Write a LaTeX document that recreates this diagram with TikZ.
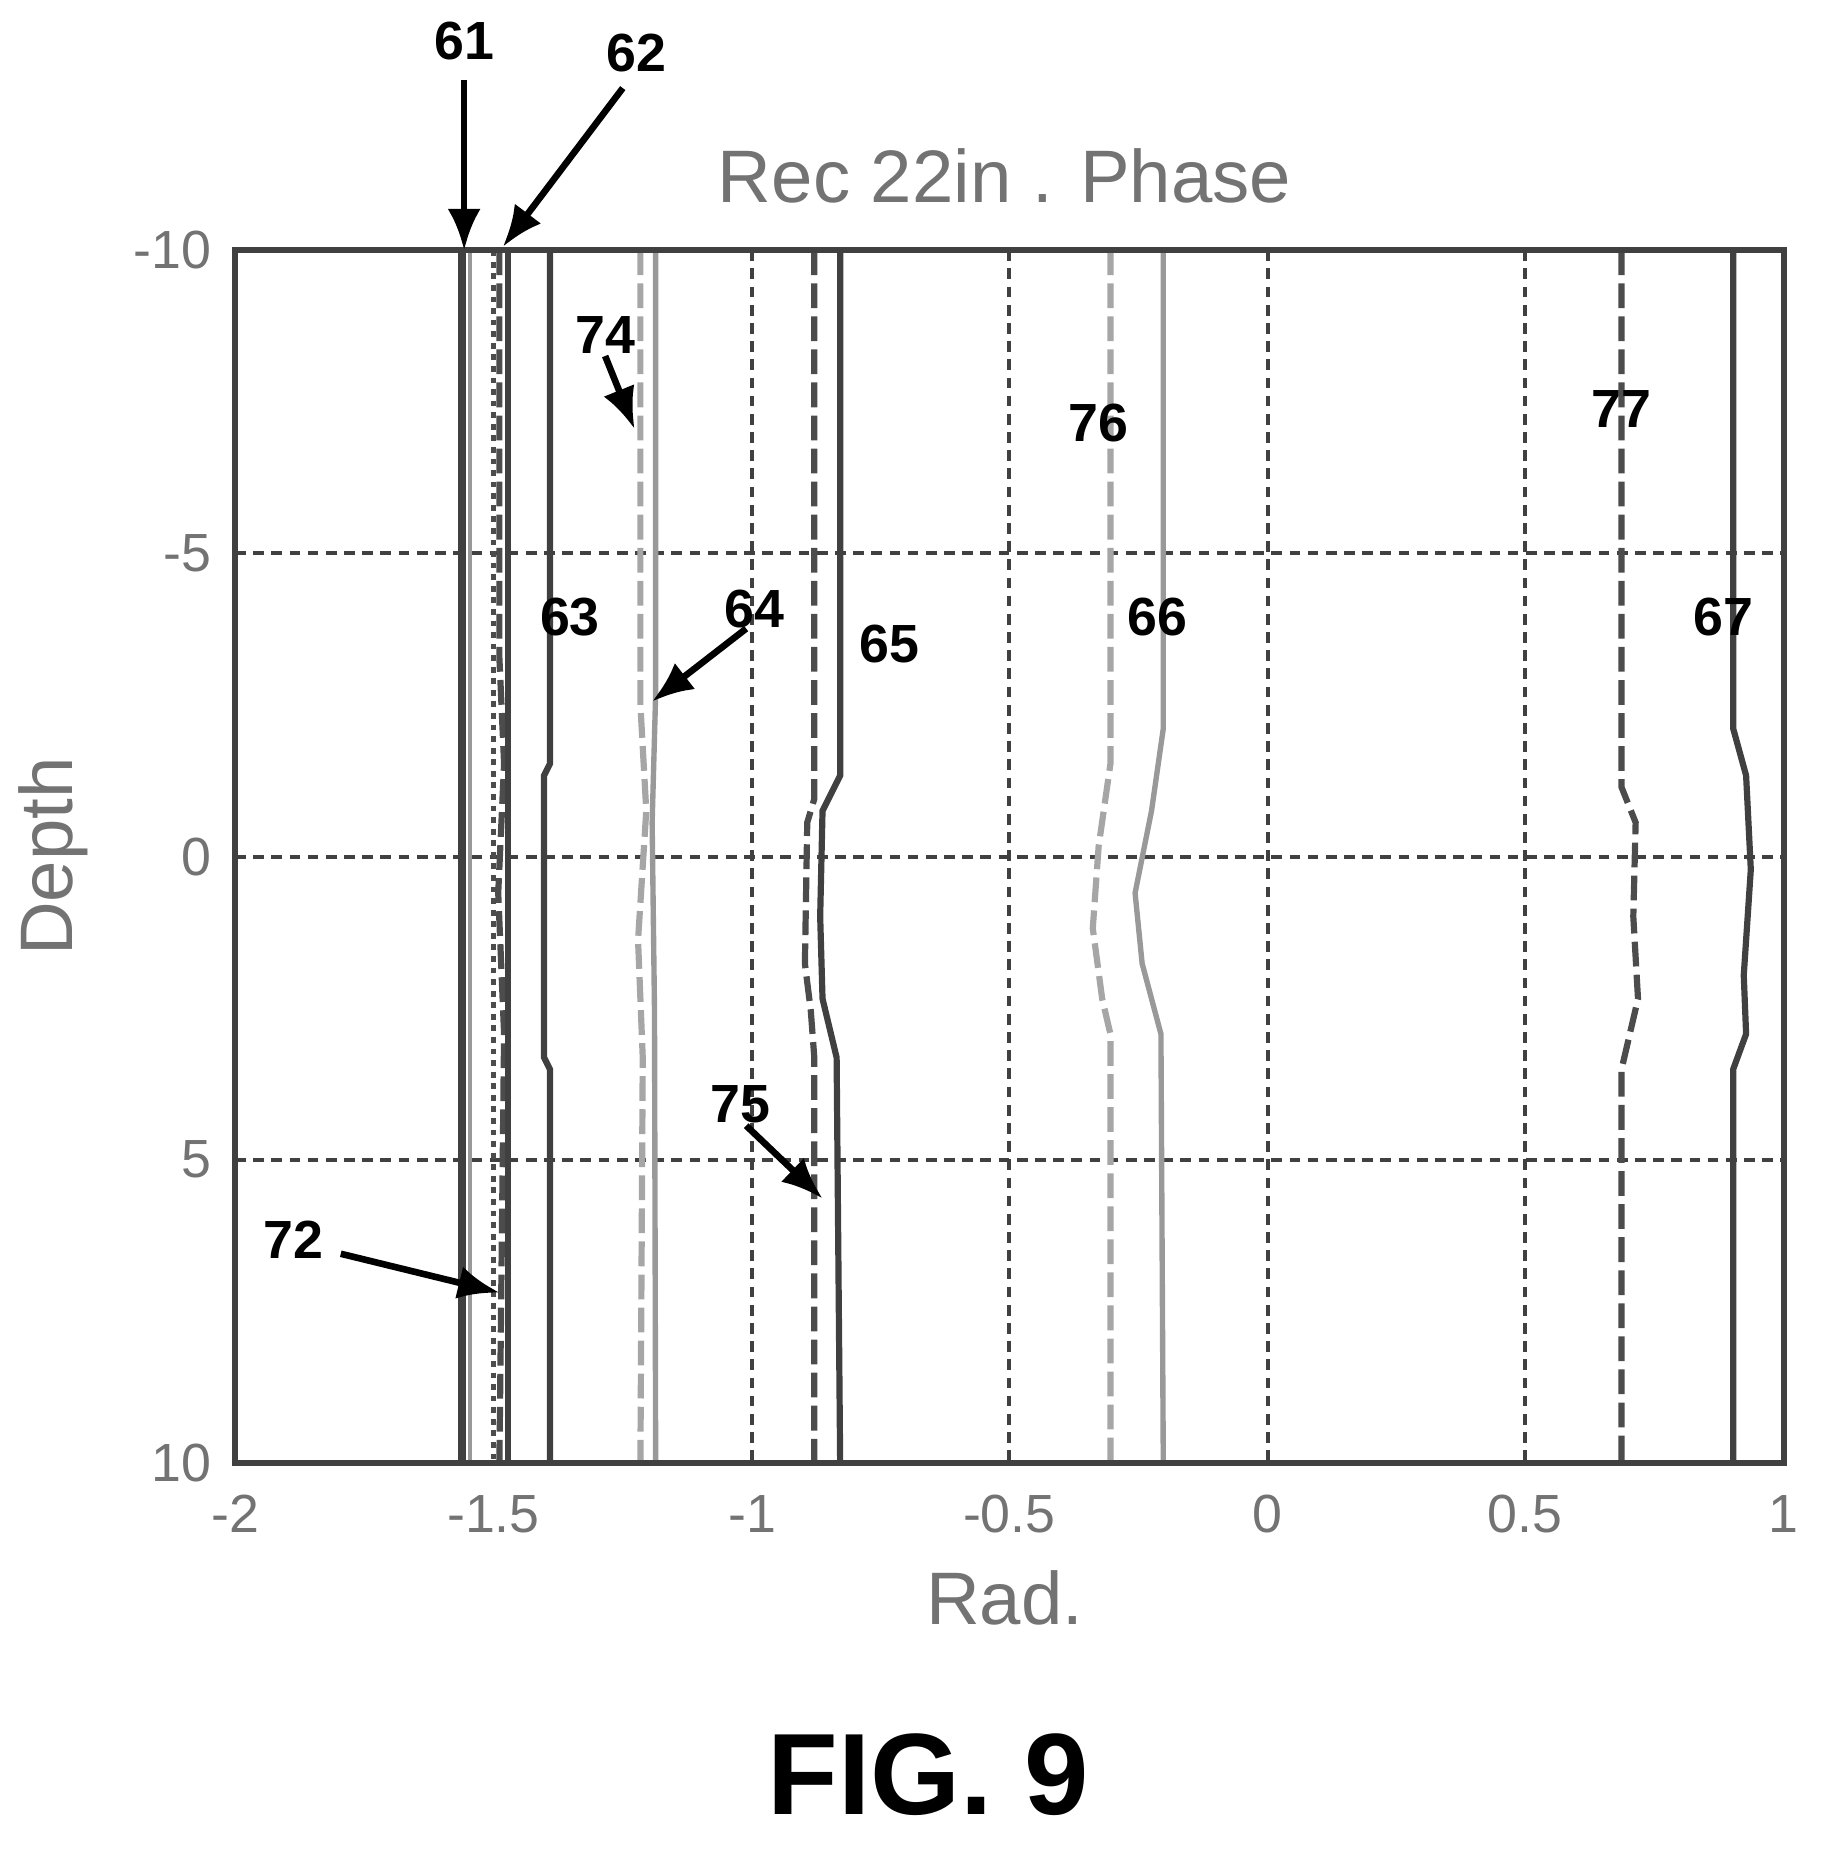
\documentclass[tikz,border=0pt]{standalone}
\usepackage{fontspec}
\setmainfont{Liberation Sans}
\usetikzlibrary{arrows.meta}
\begin{document}
\begin{tikzpicture}[
x=0.01cm, y=-0.01cm,
every node/.style={font=\bfseries\fontsize{13}{15}\selectfont},
]
% \draw [help lines] (0,0) grid (1550,1577);

\tikzset{
	grid/.style={black!75, line width=1pt, dash pattern=on 2.6pt off 1.8pt},
	sol/.style={black!75, line width=1.5pt},
	lsol/.style={black!40, line width=1.3pt},
	dsh/.style={black!70, line width=1.5pt, dash pattern=on 6pt off 2pt},
	ldsh/.style={black!35, line width=1.5pt, dash pattern=on 6pt off 2pt},
	dot/.style={black!70, line width=1pt, dash pattern=on 1.4pt off 1.4pt},
	ax/.style={black!55, font=\fontsize{18}{20}\selectfont},
	tick/.style={black!55, font=\fontsize{13}{15}\selectfont},
	call/.style={line width=1.6pt, -{Latex[length=10pt,width=8pt]}},
}

\useasboundingbox (0,0) rectangle (1550,1577);

% grid
\foreach \gx in {640,859,1079,1298} \draw[grid] (\gx,213) -- (\gx,1245);
\foreach \gy in {471,729,987} \draw[grid] (200,\gy) -- (1518,\gy);

% curves
\draw[sol, line width=1.8pt] (393,213) -- (393,1245);
\draw[lsol, line width=0.8pt] (400,213) -- (400,1245);
\draw[dot] (420,213) -- (420,1245);
\draw[dsh] (425,213) -- (425,560) -- (429,650) -- (424,760) -- (429,880) -- (425,1245);
\draw[sol] (432,213) -- (432,1245);
\draw[sol] (468,213) -- (468,650) -- (463,660) -- (463,900) -- (468,910) -- (468,1245);
\draw[ldsh] (545,213) -- (545,600) -- (550,690) -- (543,800) -- (547,900) -- (545,1245);
\draw[lsol] (558,213) -- (558,590) -- (555,700) -- (557,860) -- (558,1245);
\draw[dsh] (693,213) -- (693,680) -- (687,700) -- (685,820) -- (690,860) -- (693,900) -- (693,1245);
\draw[sol] (715,213) -- (715,660) -- (700,690) -- (698,780) -- (700,850) -- (712,900) -- (715,1245);
\draw[ldsh] (945,213) -- (945,650) -- (935,720) -- (930,790) -- (938,850) -- (945,880) -- (945,1245);
\draw[lsol] (990,213) -- (990,620) -- (980,690) -- (966,760) -- (972,820) -- (988,880) -- (990,1245);
\draw[dsh] (1380,213) -- (1380,670) -- (1392,700) -- (1390,780) -- (1394,850) -- (1380,910) -- (1380,1245);
\draw[sol] (1475,213) -- (1475,620) -- (1486,660) -- (1490,740) -- (1484,830) -- (1486,880) -- (1475,910) -- (1475,1245);

% frame
\draw[black!75, line width=1.5pt] (200,213) rectangle (1518,1245);

% ticks and axis labels
\foreach \yv/\gy in {-10/213,-5/471,0/729,5/987,10/1245}
	\node[tick, anchor=east] at (192,\gy) {\yv};
\foreach \xv/\gx in {-2/200,-1.5/420,-1/640,-0.5/859,0/1079,0.5/1298,1/1518}
	\node[tick, anchor=north] at (\gx,1260) {\xv};
\node[ax] (ttl) at (855,150) {Rec 22in . Phase};
\node[ax] (xl) at (855,1360) {Rad.};
\node[ax, rotate=90] (yl) at (45,729) {Depth};

% reference numerals
\node (n61) at (395,35) {61};
\node (n62) at (542,45) {62};
\node (n63) at (485,525) {63};
\node (n64) at (642,518) {64};
\node (n65) at (757,548) {65};
\node (n66) at (985,525) {66};
\node (n67) at (1467,525) {67};
\node (n72) at (250,1055) {72};
\node (n74) at (515,285) {74};
\node (n75) at (630,940) {75};
\node (n76) at (935,360) {76};
\node (n77) at (1380,348) {77};

\coordinate (t61) at (395,213);
\coordinate (t62) at (428,210);
\coordinate (t64) at (555,597);
\coordinate (t72) at (425,1100);
\coordinate (t74) at (540,365);
\coordinate (t75) at (700,1020);

\draw[call] (395,68) -- (t61);
\draw[call] (530,75) -- (t62);
\draw[call] (635,535) -- (t64);
\draw[call] (290,1067) -- (t72);
\draw[call] (515,303) -- (t74);
\draw[call] (635,958) -- (t75);

\node[font=\bfseries\fontsize{28}{32}\selectfont] (fig) at (790,1510) {FIG. 9};
\end{tikzpicture}
\end{document}
